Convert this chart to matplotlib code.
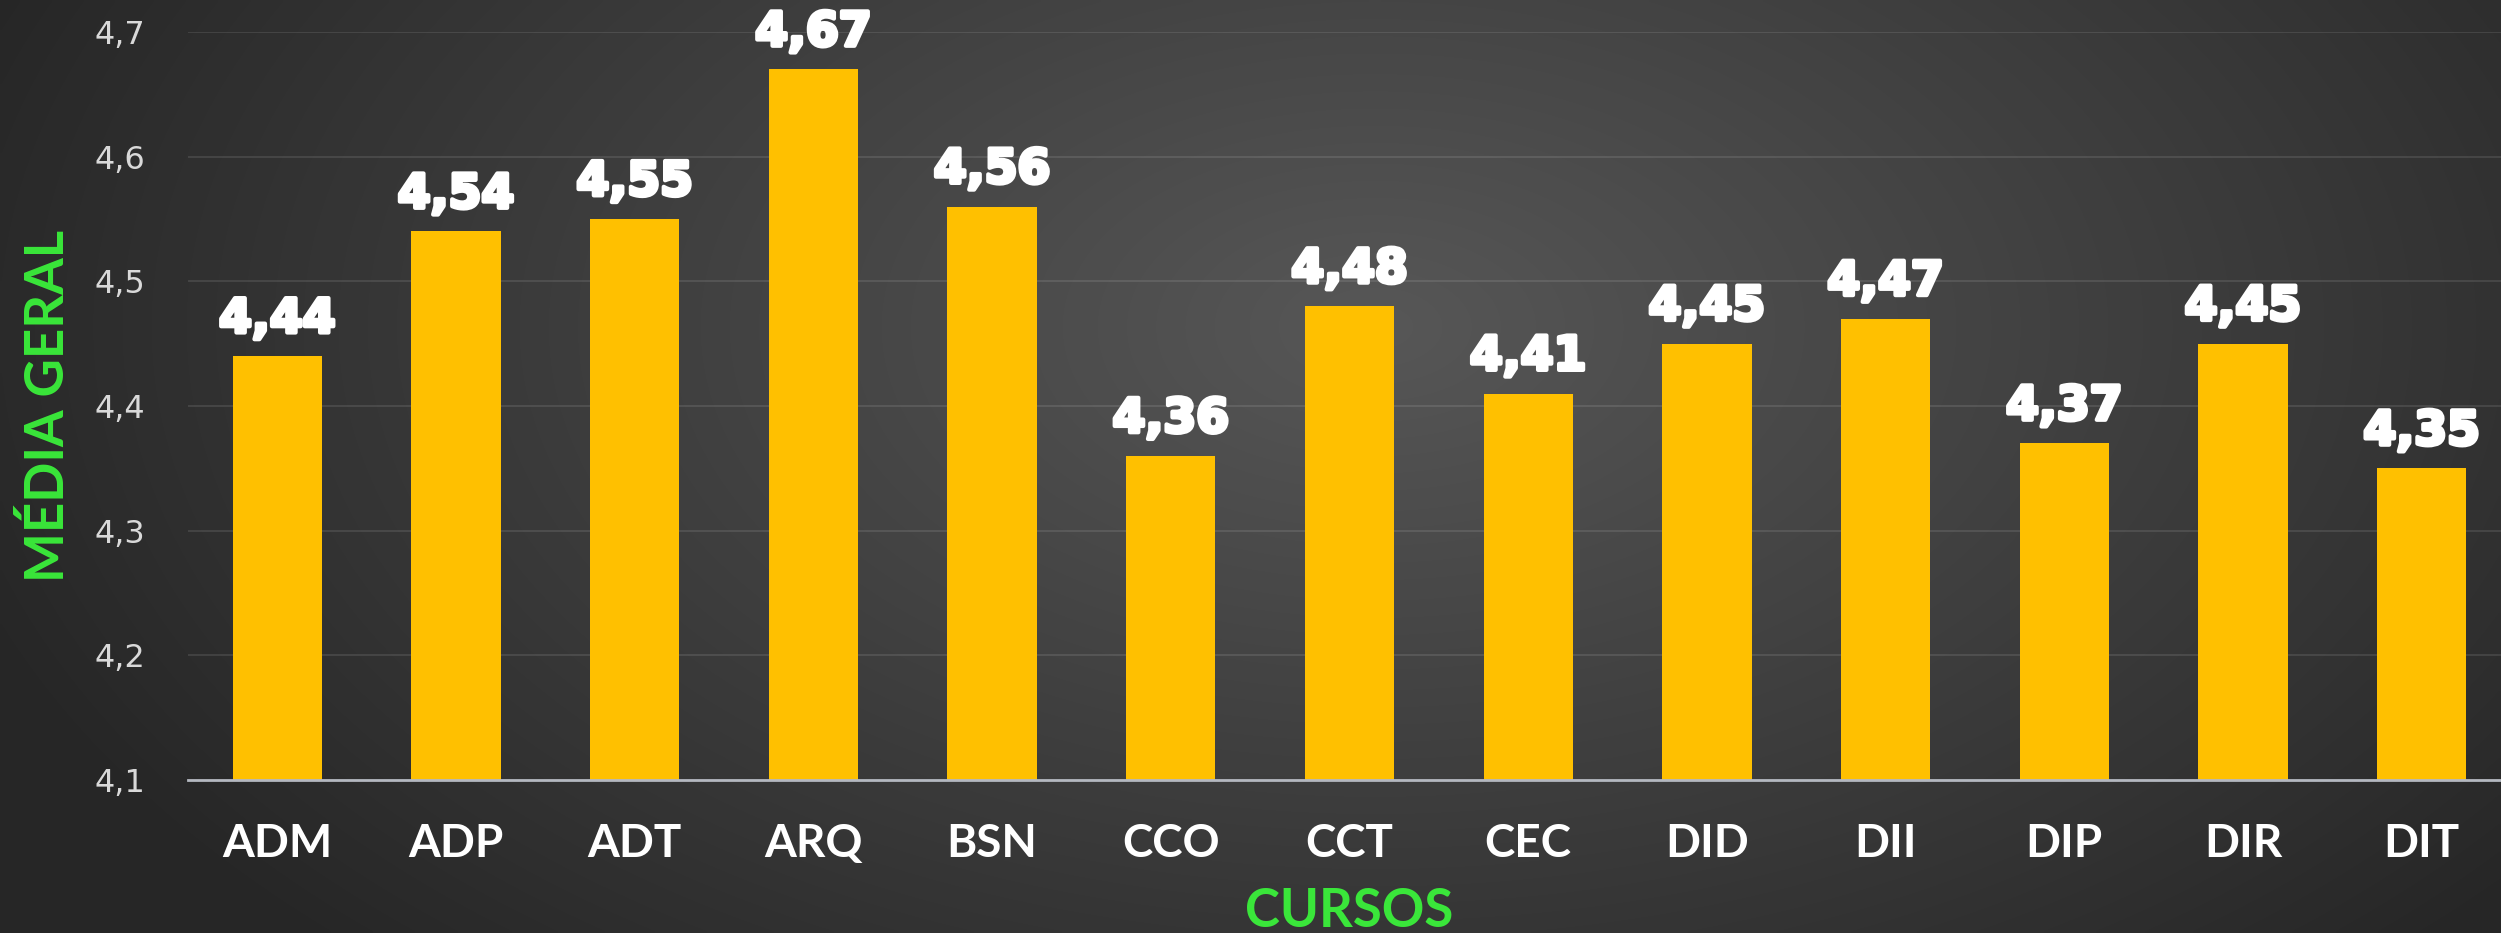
import numpy as np
import matplotlib
matplotlib.use('Agg')
import matplotlib.pyplot as plt
import matplotlib.patheffects as pe
from matplotlib.colors import LinearSegmentedColormap

cursos = ['ADM', 'ADP', 'ADT', 'ARQ', 'BSN', 'CCO', 'CCT',
          'CEC', 'DID', 'DII', 'DIP', 'DIR', 'DIT']
medias = [4.44, 4.54, 4.55, 4.67, 4.56, 4.36, 4.48,
          4.41, 4.45, 4.47, 4.37, 4.45, 4.35]
yticks = [4.1, 4.2, 4.3, 4.4, 4.5, 4.6, 4.7]
ytick_labels = ['4,1', '4,2', '4,3', '4,4', '4,5', '4,6', '4,7']

BAR = '#FFC000'
GREEN = '#3ae63a'

fig = plt.figure(figsize=(25.01, 9.33), dpi=100)

# background: soft radial gradient, lighter in the middle
bg = fig.add_axes([0, 0, 1, 1])
gx, gy = np.meshgrid(np.linspace(0, 1, 600), np.linspace(0, 1, 240))
d = np.sqrt(((gx - 0.55) / 0.6) ** 2 + ((gy - 0.35) / 0.95) ** 2)
d = np.clip(d, 0, 1)
cmap = LinearSegmentedColormap.from_list('bg', ['#575757', '#262626'])
bg.imshow(d, cmap=cmap, aspect='auto', extent=[0, 1, 0, 1], origin='upper',
          interpolation='bilinear')
bg.axis('off')

ax = fig.add_axes([188 / 2501, 153 / 933, 2323 / 2501, 748 / 933])
ax.set_facecolor('none')

x = np.arange(len(cursos))
ax.bar(x, medias, width=0.5, color=BAR, zorder=3)

# value labels above the bars
for i, v in enumerate(medias):
    ax.annotate(f'{v:.2f}'.replace('.', ','), (i, v), xytext=(0, 17),
                textcoords='offset points', ha='center', va='baseline',
                fontsize=34, fontweight='bold', color='white',
                path_effects=[pe.withStroke(linewidth=3, foreground='white')])

ax.set_xlim(-0.5, len(cursos) - 0.5)
ax.set_ylim(4.1, 4.7)
ax.set_yticks(yticks)
ax.set_yticklabels(ytick_labels)
ax.set_xticks(x)
ax.set_xticklabels(cursos, fontfamily='Lato', fontweight='bold', fontsize=33,
                   color='white')
ax.tick_params(axis='y', length=0, pad=31, labelsize=23, labelcolor='#d9d9d9')
ax.tick_params(axis='x', length=0, pad=31)

ax.grid(axis='y', color='white', alpha=0.1, linewidth=1.5, zorder=0)
for s in ['top', 'right', 'left']:
    ax.spines[s].set_visible(False)
ax.spines['bottom'].set_color('#b4b8c0')
ax.spines['bottom'].set_linewidth(2)
ax.spines['bottom'].set_zorder(4)

ax.set_ylabel('MÉDIA GERAL', fontfamily='Lato', fontweight='bold', fontsize=38,
              color=GREEN, va='center')
ax.yaxis.set_label_coords(-0.0603, 0.5)
ax.set_xlabel('CURSOS', fontfamily='Lato', fontweight='bold', fontsize=38,
              color=GREEN, va='center')
ax.xaxis.set_label_coords(0.5, -0.176)

fig.savefig('out.png', dpi=100)
